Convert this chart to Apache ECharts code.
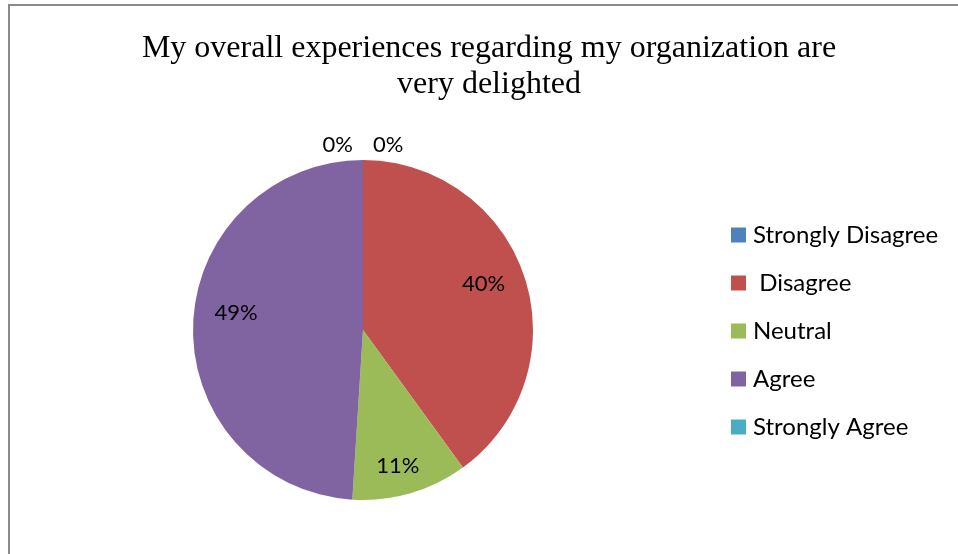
<!DOCTYPE html>
<html>
<head>
<meta charset="utf-8">
<script src="https://cdn.jsdelivr.net/npm/echarts@6/dist/echarts.min.js"></script>
<style>
  html, body { margin: 0; padding: 0; background: #fff; }
  #chart { width: 958px; height: 554px; }
</style>
</head>
<body>
<div id="chart"></div>
<script>
  // answers and their shares (%)
  var categories = ['Strongly Disagree', ' Disagree', 'Neutral', 'Agree', 'Strongly Agree'];
  var values = [0, 40, 11, 49, 0];
  var colors = ['#4F81BD', '#C0504D', '#9BBB59', '#8064A2', '#4BACC6'];

  var chart = echarts.init(document.getElementById('chart'));

  var pieData = categories.map(function (name, i) {
    return { name: name, value: values[i], itemStyle: { color: colors[i] } };
  });

  // transparent ring only used to place the labels further out than 'inside' does
  var labelData = categories.map(function (name, i) {
    var item = { name: name, value: values[i] };
    if (values[i] === 0) {
      item.label = { position: 'outside' };
    }
    return item;
  });

  var labelFont = { fontFamily: 'Lato', fontSize: 22, color: '#000' };

  var option = {
    animation: false,
    graphic: [{
      type: 'rect',
      shape: { x: 9, y: 5, width: 1000, height: 600 },
      style: { fill: 'none', stroke: '#8a8a8a', lineWidth: 2 },
      silent: true
    }],
    title: {
      text: 'My overall experiences regarding my organization are\nvery delighted',
      left: 484,
      top: 26,
      textAlign: 'center',
      textStyle: {
        fontFamily: 'Liberation Serif',
        fontWeight: 'normal',
        fontSize: 32,
        lineHeight: 36,
        color: '#000'
      }
    },
    legend: {
      orient: 'vertical',
      left: 731,
      top: 223,
      padding: 0,
      itemWidth: 15,
      itemHeight: 15,
      itemGap: 24,
      icon: 'rect',
      data: categories,
      textStyle: { fontFamily: 'Lato', fontSize: 24, lineHeight: 24, color: '#000', padding: [0, 0, 0, 2] }
    },
    series: [{
      type: 'pie',
      center: [363, 330],
      radius: 170,
      startAngle: 90,
      clockwise: true,
      avoidLabelOverlap: false,
      itemStyle: { borderWidth: 0 },
      label: { show: false },
      labelLine: { show: false },
      emphasis: { disabled: true },
      data: pieData
    }, {
      type: 'pie',
      center: [363, 330],
      radius: [88, 170],
      startAngle: 90,
      clockwise: true,
      silent: true,
      avoidLabelOverlap: false,
      itemStyle: { color: 'rgba(0,0,0,0)', borderWidth: 0 },
      label: Object.assign({
        show: true,
        position: 'inside',
        distanceToLabelLine: 5,
        formatter: function (p) { return p.value + '%'; }
      }, labelFont),
      labelLine: { show: false, length: 15, length2: 5 },
      // nudge labels to where the original "best fit" put them
      labelLayout: function (p) {
        switch (p.dataIndex) {
          case 0: return { align: 'left', dx: 20 }; // empty slice, right of the top edge
          case 1: return { dx: -5, dy: -5 };
          case 2: return { dx: -2, dy: 9 };
          case 3: return { dx: 5, dy: -13 };
        }
      },
      data: labelData
    }]
  };

  chart.setOption(option);
</script>
</body>
</html>
